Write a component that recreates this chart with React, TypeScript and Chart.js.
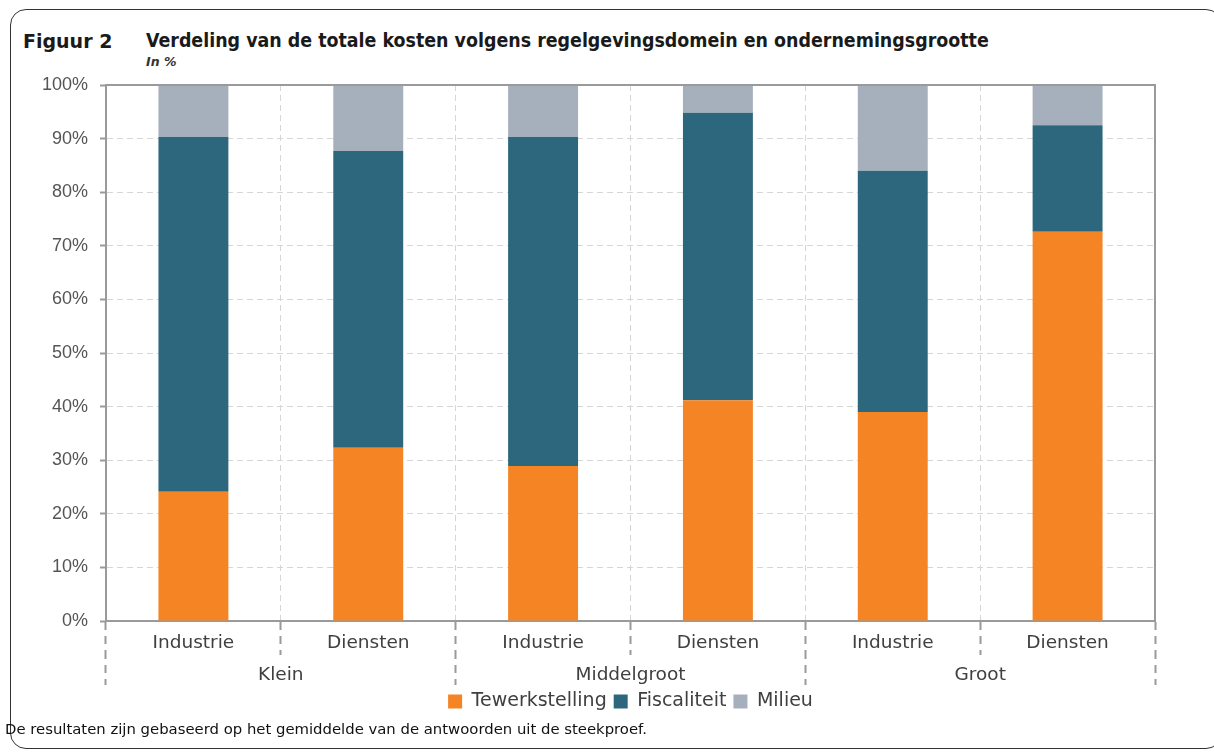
import React, { useEffect, useRef } from "react";
import { Chart, registerables } from "chart.js";

Chart.register(...registerables);

const subCategories = ["Industrie", "Diensten", "Industrie", "Diensten", "Industrie", "Diensten"];
const groups = ["Klein", "Middelgroot", "Groot"];
const tewerkstelling = [24.1, 32.3, 28.9, 41.2, 39.0, 72.6];
const fiscaliteit = [66.2, 55.4, 61.4, 53.6, 45.0, 19.9];
const milieu = [9.7, 12.3, 9.7, 5.2, 16.0, 7.5];
const yTicks = [0, 10, 20, 30, 40, 50, 60, 70, 80, 90, 100];

const ORANGE = "#F48424";
const TEAL = "#2D677D";
const GREY = "#A6B0BD";
const AXIS = "#9a9a9a";
const GRID = "#d6d6d6";
const TXT = "#404040";

const boxPlugin = {
  id: "plotBox",
  afterDatasetsDraw(chart: any) {
    const { ctx, chartArea } = chart;
    ctx.save();
    ctx.strokeStyle = AXIS;
    ctx.lineWidth = 2;
    ctx.beginPath();
    ctx.moveTo(chartArea.left, chartArea.top);
    ctx.lineTo(chartArea.right, chartArea.top);
    ctx.lineTo(chartArea.right, chartArea.bottom);
    ctx.stroke();
    ctx.restore();
  },
};

export default function App() {
  const ref = useRef<HTMLCanvasElement>(null);

  useEffect(() => {
    if (!ref.current) return;
    const chart = new Chart(ref.current, {
      type: "bar",
      data: {
        labels: subCategories,
        datasets: [
          { label: "Tewerkstelling", data: tewerkstelling, backgroundColor: ORANGE },
          { label: "Fiscaliteit", data: fiscaliteit, backgroundColor: TEAL },
          { label: "Milieu", data: milieu, backgroundColor: GREY },
        ],
      },
      options: {
        responsive: false,
        animation: false,
        layout: { padding: { left: 0, right: 59, top: 85, bottom: 31 } },
        datasets: { bar: { categoryPercentage: 1, barPercentage: 0.4 } } as any,
        plugins: {
          tooltip: { enabled: false },
          title: { display: false },
          legend: {
            position: "bottom",
            fullSize: false,
            labels: {
              boxWidth: 14,
              boxHeight: 14,
              padding: 7,
              color: TXT,
              font: { family: "'DejaVu Sans'", size: 19 },
            },
          },
        },
        scales: {
          x: {
            type: "category",
            stacked: true,
            offset: true,
            grid: {
              offset: true,
              color: GRID,
              lineWidth: 1,
              drawTicks: true,
              tickLength: 34,
              tickColor: AXIS,
              tickWidth: 2,
              tickBorderDash: [8, 6],
            } as any,
            border: { display: true, color: AXIS, width: 2, dash: [6, 4] } as any,
            ticks: {
              padding: -23,
              color: TXT,
              font: { family: "'DejaVu Sans'", size: 18.5 },
              maxRotation: 0,
              autoSkip: false,
            },
            afterFit: (s: any) => {
              s.height = 34;
            },
          },
          x2: {
            type: "category",
            labels: groups,
            position: "bottom",
            offset: true,
            grid: {
              offset: true,
              drawOnChartArea: false,
              drawTicks: true,
              tickLength: 30,
              tickColor: AXIS,
              tickWidth: 2,
              tickBorderDash: [8, 6],
              tickBorderDashOffset: 4,
            } as any,
            border: { display: false } as any,
            ticks: {
              padding: -21,
              color: TXT,
              font: { family: "'DejaVu Sans'", size: 18.5 },
              maxRotation: 0,
              autoSkip: false,
            },
            afterFit: (s: any) => {
              s.height = 30;
            },
          },
          y: {
            stacked: true,
            min: 0,
            max: 100,
            afterBuildTicks: (s: any) => {
              s.ticks = yTicks.map((v) => ({ value: v }));
            },
            grid: {
              color: GRID,
              lineWidth: 1,
              drawTicks: true,
              tickLength: 6,
              tickColor: AXIS,
              tickWidth: 2,
              tickBorderDash: [],
            } as any,
            border: { display: true, color: AXIS, width: 2, dash: [6, 4] } as any,
            ticks: {
              padding: 12,
              color: "#555555",
              font: { family: "'Liberation Sans'", size: 18 },
              callback: (v: any) => `${v}%`,
            },
            afterFit: (s: any) => {
              s.width = 106;
            },
          },
        },
      },
      plugins: [boxPlugin],
    });
    return () => chart.destroy();
  }, []);

  return (
    <div
      style={{
        position: "fixed",
        left: 0,
        top: 0,
        width: 1214,
        height: 752,
        overflow: "hidden",
        background: "#fff",
      }}
    >
      <div
        style={{
          position: "absolute",
          left: 10,
          top: 9,
          width: 1212,
          height: 740,
          border: "1px solid #333",
          borderRadius: 16,
          boxSizing: "border-box",
        }}
      />
      <div
        style={{
          position: "absolute",
          left: 23,
          top: 30,
          font: "bold 19px 'DejaVu Sans'",
          lineHeight: "22px",
          color: "#1a1a1a",
          whiteSpace: "nowrap",
        }}
      >
        Figuur 2
      </div>
      <div
        style={{
          position: "absolute",
          left: 146,
          top: 30,
          font: "bold 19.4px 'DejaVu Sans Condensed'",
          fontStretch: "condensed",
          lineHeight: "22px",
          color: "#1a1a1a",
          whiteSpace: "nowrap",
        }}
      >
        Verdeling van de totale kosten volgens regelgevingsdomein en ondernemingsgrootte
      </div>
      <div
        style={{
          position: "absolute",
          left: 146,
          top: 54,
          font: "italic bold 12.5px 'DejaVu Sans'",
          lineHeight: "15px",
          color: "#333",
          whiteSpace: "nowrap",
        }}
      >
        In %
      </div>
      <canvas
        ref={ref}
        width={1214}
        height={752}
        style={{ position: "absolute", left: 0, top: 0, width: 1214, height: 752 }}
      />
      <div
        style={{
          position: "absolute",
          left: 5,
          top: 720,
          font: "14.85px 'DejaVu Sans'",
          lineHeight: "18px",
          color: "#111",
          whiteSpace: "nowrap",
        }}
      >
        De resultaten zijn gebaseerd op het gemiddelde van de antwoorden uit de steekproef.
      </div>
    </div>
  );
}
